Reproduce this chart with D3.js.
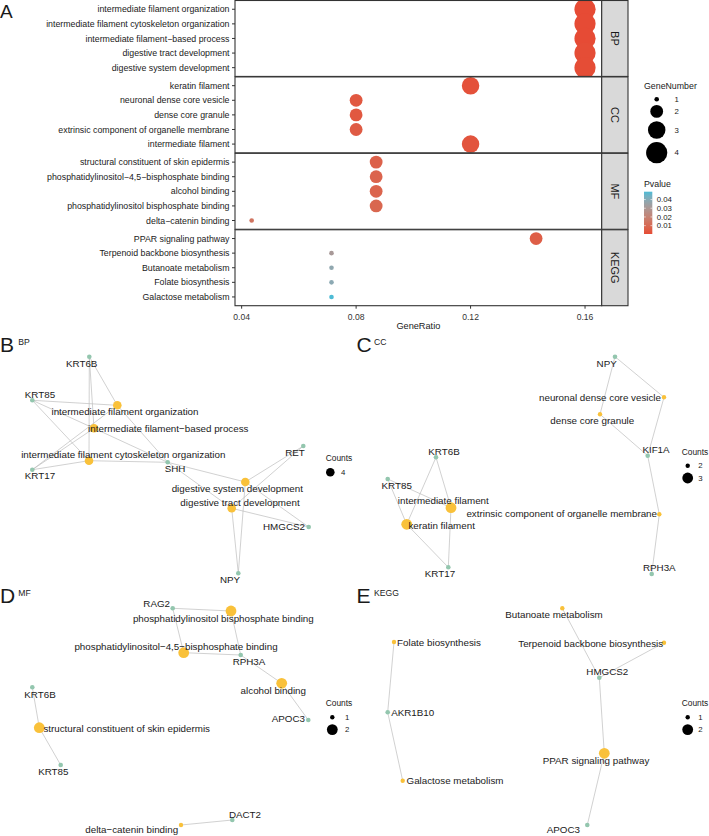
<!DOCTYPE html>
<html>
<head>
<meta charset="utf-8">
<script src="https://cdn.jsdelivr.net/npm/d3@7"></script>
<style>
  body { margin: 0; background: #fff; }
  text { font-family: "Liberation Sans", Arial, Helvetica, sans-serif; }
</style>
</head>
<body>
<svg id="chart" width="709" height="836"></svg>
<script>
// ---------- Panel A: enrichment dot plot ----------
const facets = ["BP", "CC", "MF", "KEGG"];

const bpTerms = ["intermediate filament organization", "intermediate filament cytoskeleton organization",
  "intermediate filament\u2212based process", "digestive tract development", "digestive system development"];
const bpRatio = [0.16, 0.16, 0.16, 0.16, 0.16];
const bpCount = [4, 4, 4, 4, 4];
const bpPvalue = [0.0004, 0.0004, 0.0005, 0.0008, 0.0008];

const ccTerms = ["keratin filament", "neuronal dense core vesicle", "dense core granule",
  "extrinsic component of organelle membrane", "intermediate filament"];
const ccRatio = [0.12, 0.08, 0.08, 0.08, 0.12];
const ccCount = [3, 2, 2, 2, 3];
const ccPvalue = [0.002, 0.004, 0.004, 0.005, 0.003];

const mfTerms = ["structural constituent of skin epidermis", "phosphatidylinositol\u22124,5\u2212bisphosphate binding",
  "alcohol binding", "phosphatidylinositol bisphosphate binding", "delta\u2212catenin binding"];
const mfRatio = [0.087, 0.087, 0.087, 0.087, 0.0435];
const mfCount = [2, 2, 2, 2, 1];
const mfPvalue = [0.007, 0.008, 0.008, 0.009, 0.014];

const keggTerms = ["PPAR signaling pathway", "Terpenoid backbone biosynthesis", "Butanoate metabolism",
  "Folate biosynthesis", "Galactose metabolism"];
const keggRatio = [0.1429, 0.0714, 0.0714, 0.0714, 0.0714];
const keggCount = [2, 1, 1, 1, 1];
const keggPvalue = [0.006, 0.031, 0.038, 0.039, 0.049];

const xTicks = [0.04, 0.08, 0.12, 0.16];
const sizeLegendValues = [1, 2, 3, 4];
const pLegendTicks = [0.01, 0.02, 0.03, 0.04];

// ---------- Panels B-E: gene-concept networks (layout units) ----------
// [name, kind, count, x, y, labelX, labelY]
const bpNodes = [
  ["intermediate filament organization", "term", 4, 117.3, 70.3, 125, 77],
  ["intermediate filament\u2212based process", "term", 4, 94, 93.3, 168.3, 94],
  ["intermediate filament cytoskeleton organization", "term", 4, 89, 125.7, 123.3, 119.7],
  ["digestive system development", "term", 4, 245.3, 147, 237.3, 153.3],
  ["digestive tract development", "term", 4, 231.7, 173.3, 240, 167.3],
  ["KRT6B", "gene", 0, 89.3, 21.7, 81.7, 29],
  ["KRT85", "gene", 0, 32.3, 65.3, 40, 59.7],
  ["KRT17", "gene", 0, 32.3, 134.7, 40, 141],
  ["SHH", "gene", 0, 167.7, 127.3, 175, 134],
  ["RET", "gene", 0, 303.3, 111, 295, 117.7],
  ["HMGCS2", "gene", 0, 308.7, 192, 284, 192],
  ["NPY", "gene", 0, 238.3, 238.3, 230, 245]
];
const bpLinks = [
  ["intermediate filament organization", ["KRT6B", "KRT85", "KRT17", "SHH"]],
  ["intermediate filament\u2212based process", ["KRT6B", "KRT85", "KRT17", "SHH"]],
  ["intermediate filament cytoskeleton organization", ["KRT6B", "KRT85", "KRT17", "SHH"]],
  ["digestive system development", ["SHH", "RET", "HMGCS2", "NPY"]],
  ["digestive tract development", ["SHH", "RET", "HMGCS2", "NPY"]]
];

const ccNodes = [
  ["neuronal dense core vesicle", "term", 2, 314, 62.3, 250, 63],
  ["dense core granule", "term", 2, 250, 79.3, 242.3, 85.7],
  ["extrinsic component of organelle membrane", "term", 2, 309.3, 179.3, 211.7, 178.3],
  ["intermediate filament", "term", 3, 101, 172.7, 93.3, 166],
  ["keratin filament", "term", 3, 56.7, 189.3, 91.7, 191],
  ["NPY", "gene", 0, 265, 21.7, 256.7, 29],
  ["KIF1A", "gene", 0, 297.7, 120.7, 306, 114.7],
  ["RPH3A", "gene", 0, 301.7, 239, 309.3, 232.7],
  ["KRT6B", "gene", 0, 86, 122.3, 94, 117],
  ["KRT85", "gene", 0, 37.7, 144, 46.7, 150.7],
  ["KRT17", "gene", 0, 98.3, 232.3, 90, 238.3]
];
const ccLinks = [
  ["neuronal dense core vesicle", ["NPY", "KIF1A"]],
  ["dense core granule", ["NPY", "KIF1A"]],
  ["extrinsic component of organelle membrane", ["KIF1A", "RPH3A"]],
  ["intermediate filament", ["KRT6B", "KRT85", "KRT17"]],
  ["keratin filament", ["KRT6B", "KRT85", "KRT17"]]
];

const mfNodes = [
  ["phosphatidylinositol bisphosphate binding", "term", 2, 231, 26, 223.3, 33.3],
  ["phosphatidylinositol\u22124,5\u2212bisphosphate binding", "term", 2, 183.7, 67.7, 176, 61.7],
  ["alcohol binding", "term", 2, 281.7, 98.3, 273.3, 105.7],
  ["structural constituent of skin epidermis", "term", 2, 39.3, 142.7, 126.7, 143.3],
  ["delta\u2212catenin binding", "term", 1, 181, 240, 131.7, 245],
  ["RAG2", "gene", 0, 172.7, 23.3, 156.7, 18.3],
  ["RPH3A", "gene", 0, 240.7, 70, 249, 76.7],
  ["APOC3", "gene", 0, 308.3, 135, 288.3, 133.7],
  ["KRT6B", "gene", 0, 32.3, 102.3, 40, 110],
  ["KRT85", "gene", 0, 60.7, 180, 53.3, 186.7],
  ["DACT2", "gene", 0, 232.3, 235, 245, 229.3]
];
const mfLinks = [
  ["phosphatidylinositol bisphosphate binding", ["RAG2", "RPH3A"]],
  ["phosphatidylinositol\u22124,5\u2212bisphosphate binding", ["RAG2", "RPH3A"]],
  ["alcohol binding", ["RPH3A", "APOC3"]],
  ["structural constituent of skin epidermis", ["KRT6B", "KRT85"]],
  ["delta\u2212catenin binding", ["DACT2"]]
];

const keggNodes = [
  ["Butanoate metabolism", "term", 1, 212.3, 23.3, 204, 30],
  ["Terpenoid backbone biosynthesis", "term", 1, 314, 57.7, 240.7, 58.3],
  ["Folate biosynthesis", "term", 1, 44, 57, 89, 57.7],
  ["Galactose metabolism", "term", 1, 52.7, 195.7, 105, 195.7],
  ["PPAR signaling pathway", "term", 2, 254.3, 168.3, 246, 175.3],
  ["HMGCS2", "gene", 0, 249.3, 92.7, 257.3, 86.7],
  ["AKR1B10", "gene", 0, 37.7, 127.3, 62.7, 127.7],
  ["APOC3", "gene", 0, 237.3, 240, 213.3, 244.3]
];
const keggLinks = [
  ["Butanoate metabolism", ["HMGCS2"]],
  ["Terpenoid backbone biosynthesis", ["HMGCS2"]],
  ["PPAR signaling pathway", ["HMGCS2", "APOC3"]],
  ["Folate biosynthesis", ["AKR1B10"]],
  ["Galactose metabolism", ["AKR1B10"]]
];

// ---------- drawing ----------
const svg = d3.select("#chart");
const ink = "#1a1a1a";

const facetData = [
  { name: "BP", terms: bpTerms, ratio: bpRatio, count: bpCount, p: bpPvalue },
  { name: "CC", terms: ccTerms, ratio: ccRatio, count: ccCount, p: ccPvalue },
  { name: "MF", terms: mfTerms, ratio: mfRatio, count: mfCount, p: mfPvalue },
  { name: "KEGG", terms: keggTerms, ratio: keggRatio, count: keggCount, p: keggPvalue }
];

const allRatio = facetData.flatMap(f => f.ratio);
const allCount = facetData.flatMap(f => f.count);

const plotL = 235, plotR = 601.7, plotT = 0.5, plotB = 305.7, stripR = 628;
const gap = 0.5;
const facetH = (plotB - plotT - gap * (facets.length - 1)) / facets.length;

// x scale with ggplot-like 5% expansion
const [rMin, rMax] = d3.extent(allRatio);
const pad = (rMax - rMin) * 0.05;
const x = d3.scaleLinear().domain([rMin - pad, rMax + pad]).range([plotL, plotR]);
const size = d3.scaleRadial().domain(d3.extent(allCount)).range([2.3, 10.6]);
const pExt = [0.0004, 0.049];
const color = d3.scaleLinear().domain(pExt).range(["#E64B35", "#4DBBD5"]).interpolate(d3.interpolateLab);

const gA = svg.append("g");
gA.append("text").attr("x", 0).attr("y", 18).attr("font-size", 19).attr("fill", ink).text("A");

facetData.forEach((f, i) => {
  const top = plotT + i * (facetH + gap);
  const y = d3.scalePoint().domain(f.terms).range([top, top + facetH]).padding(0.6);
  const g = gA.append("g");

  g.append("rect").attr("x", plotL).attr("y", top).attr("width", plotR - plotL).attr("height", facetH)
    .attr("fill", "#fff");

  g.selectAll("circle.dot").data(f.terms).join("circle")
    .attr("class", "dot")
    .attr("cx", (d, j) => x(f.ratio[j]))
    .attr("cy", d => y(d))
    .attr("r", (d, j) => size(f.count[j]))
    .attr("fill", (d, j) => color(f.p[j]));

  g.append("rect").attr("x", plotL).attr("y", top).attr("width", plotR - plotL).attr("height", facetH)
    .attr("fill", "none").attr("stroke", "#333").attr("stroke-width", 1.1);

  // y axis
  const yAxis = g.append("g");
  f.terms.forEach(t => {
    yAxis.append("line").attr("x1", plotL - 3).attr("x2", plotL).attr("y1", y(t)).attr("y2", y(t))
      .attr("stroke", "#333").attr("stroke-width", 1);
    yAxis.append("text").attr("x", plotL - 5.5).attr("y", y(t)).attr("dy", "0.35em")
      .attr("text-anchor", "end").attr("font-size", 8.8).attr("fill", ink).text(t);
  });

  // strip
  g.append("rect").attr("x", plotR).attr("y", top).attr("width", stripR - plotR).attr("height", facetH)
    .attr("fill", "#D9D9D9").attr("stroke", "#333").attr("stroke-width", 1.1);
  g.append("text")
    .attr("transform", `translate(${(plotR + stripR) / 2},${top + facetH / 2}) rotate(90)`)
    .attr("text-anchor", "middle").attr("dy", "0.35em").attr("font-size", 11).attr("fill", ink)
    .text(f.name);
});

// x axis
const xAxis = gA.append("g");
xTicks.forEach(t => {
  xAxis.append("line").attr("x1", x(t)).attr("x2", x(t)).attr("y1", plotB).attr("y2", plotB + 3)
    .attr("stroke", "#333");
  xAxis.append("text").attr("x", x(t)).attr("y", plotB + 11).attr("dy", "0.35em")
    .attr("text-anchor", "middle").attr("font-size", 8.6).attr("fill", "#333").text(t.toFixed(2));
});
xAxis.append("text").attr("x", (plotL + plotR) / 2).attr("y", 326).attr("dy", "0.35em")
  .attr("text-anchor", "middle").attr("font-size", 9.2).attr("fill", ink).text("GeneRatio");

// size legend
const legX = 656.7;
gA.append("text").attr("x", 644).attr("y", 86).attr("dy", "0.35em").attr("font-size", 8.8)
  .attr("fill", ink).text("GeneNumber");
let cy = 99.3 - size(sizeLegendValues[0]);
sizeLegendValues.forEach((v, i) => {
  const r = size(v);
  cy += (i === 0 ? r : r + 3.4);
  gA.append("circle").attr("cx", legX).attr("cy", cy).attr("r", r).attr("fill", "#000");
  gA.append("text").attr("x", 674.5).attr("y", cy).attr("dy", "0.35em").attr("font-size", 7.8)
    .attr("fill", ink).text(v);
  cy += r;
});

// p-value colorbar
gA.append("text").attr("x", 644).attr("y", 184).attr("dy", "0.35em").attr("font-size", 8.8)
  .attr("fill", ink).text("Pvalue");
const barTop = 191.7, barBot = 234, barX = 644, barW = 8.3;
const grad = svg.append("defs").append("linearGradient").attr("id", "pgrad")
  .attr("x1", 0).attr("y1", 1).attr("x2", 0).attr("y2", 0);
d3.range(0, 1.0001, 0.1).forEach(k => {
  grad.append("stop").attr("offset", k)
    .attr("stop-color", color(pExt[0] + k * (pExt[1] - pExt[0])));
});
gA.append("rect").attr("x", barX).attr("y", barTop).attr("width", barW).attr("height", barBot - barTop)
  .attr("fill", "url(#pgrad)");
const pScale = d3.scaleLinear().domain(pExt).range([barBot, barTop]);
pLegendTicks.forEach(t => {
  gA.append("line").attr("x1", barX).attr("x2", barX + 1.8).attr("y1", pScale(t)).attr("y2", pScale(t))
    .attr("stroke", "#fff").attr("stroke-width", 0.6);
  gA.append("line").attr("x1", barX + barW - 1.8).attr("x2", barX + barW).attr("y1", pScale(t)).attr("y2", pScale(t))
    .attr("stroke", "#fff").attr("stroke-width", 0.6);
  gA.append("text").attr("x", 656.7).attr("y", pScale(t)).attr("dy", "0.35em").attr("font-size", 7.8)
    .attr("fill", ink).text(t.toFixed(2));
});

// ---------- networks ----------
const termColor = "#F9C13A", geneColor = "#93C6AE";

const netPanels = [
  { letter: "B", sub: "BP", nodes: bpNodes, links: bpLinks, ox: 0, oy: 335, leg: [325.7, 123.3, 330.3, 341] },
  { letter: "C", sub: "CC", nodes: ccNodes, links: ccLinks, ox: 350, oy: 335, leg: [331.7, 116.7, 337.7, 348.3] },
  { letter: "D", sub: "MF", nodes: mfNodes, links: mfLinks, ox: 0, oy: 585, leg: [325.7, 118.3, 332.3, 345] },
  { letter: "E", sub: "KEGG", nodes: keggNodes, links: keggLinks, ox: 350, oy: 585, leg: [331.7, 118.3, 337.7, 348.3] }
];

netPanels.forEach(p => {
  const g = svg.append("g");
  const nx = d3.scaleLinear().domain([0, 350]).range([p.ox, p.ox + 350]);
  const ny = d3.scaleLinear().domain([0, 250]).range([p.oy, p.oy + 250]);
  const byName = new Map(p.nodes.map(n => [n[0], n]));
  const counts = Array.from(new Set(p.nodes.filter(n => n[1] === "term").map(n => n[2]))).sort(d3.ascending);
  const cExt = d3.extent(counts);
  const rScale = cExt[0] === cExt[1]
    ? () => 4.3
    : d3.scaleRadial().domain(cExt).range([2.2, 5.4]);
  const radius = n => n[1] === "term" ? rScale(n[2]) : 2.3;

  // panel tag
  g.append("text").attr("x", nx(0) + (p.ox ? 6.5 : 0)).attr("y", p.oy + (p.oy === 335 ? 17.3 : 18.3))
    .attr("font-size", 21).attr("fill", ink).text(p.letter);
  g.append("text").attr("x", nx(0) + (p.ox ? 24 : 18.3)).attr("y", p.oy + (p.oy === 335 ? 9.5 : 10.7))
    .attr("font-size", 8.6).attr("fill", ink).text(p.sub);

  // edges
  const edges = p.links.flatMap(([t, genes]) => genes.map(gn => [byName.get(t), byName.get(gn)]));
  g.selectAll("line.edge").data(edges).join("line")
    .attr("class", "edge")
    .attr("x1", d => nx(d[0][3])).attr("y1", d => ny(d[0][4]))
    .attr("x2", d => nx(d[1][3])).attr("y2", d => ny(d[1][4]))
    .attr("stroke", "#BDBDBD").attr("stroke-width", 0.7);

  // nodes
  g.selectAll("circle.node").data(p.nodes).join("circle")
    .attr("class", "node")
    .attr("cx", d => nx(d[3])).attr("cy", d => ny(d[4]))
    .attr("r", radius)
    .attr("fill", d => d[1] === "term" ? termColor : geneColor);

  // labels
  g.selectAll("text.lab").data(p.nodes).join("text")
    .attr("class", "lab")
    .attr("x", d => nx(d[5])).attr("y", d => ny(d[6])).attr("dy", "0.35em")
    .attr("text-anchor", "middle").attr("font-size", 9.8).attr("fill", ink)
    .text(d => d[0]);

  // counts legend
  const [lx, ly, dx, tx] = p.leg;
  g.append("text").attr("x", nx(lx)).attr("y", ny(ly)).attr("dy", "0.35em").attr("font-size", 8.4)
    .attr("fill", ink).text("Counts");
  counts.forEach((c, i) => {
    const yy = ny(ly + 14 + i * 12.3);
    g.append("circle").attr("cx", nx(dx)).attr("cy", yy).attr("r", rScale(c)).attr("fill", "#000");
    g.append("text").attr("x", nx(tx)).attr("y", yy).attr("dy", "0.35em").attr("font-size", 7.8)
      .attr("fill", ink).text(c);
  });
});
</script>
</body>
</html>
